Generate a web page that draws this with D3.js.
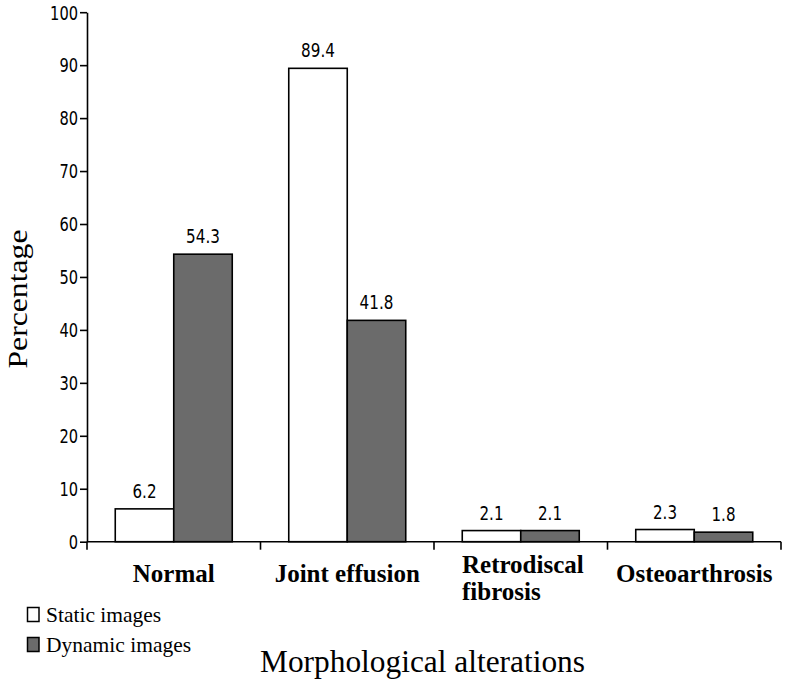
<!DOCTYPE html>
<html><head><meta charset="utf-8">
<script src="https://cdn.jsdelivr.net/npm/d3@7"></script>
<style>body{margin:0;background:#fff}svg{display:block}
.serif{font-family:"Liberation Serif","Times New Roman",Times,serif}
.num{font-family:"DejaVu Sans Condensed","DejaVu Sans",sans-serif}
</style>
</head><body>
<script>
const categories = ["Normal", "Joint effusion", "Retrodiscal fibrosis", "Osteoarthrosis"];
const categoryLines = [["Normal"], ["Joint effusion"], ["Retrodiscal", "fibrosis"], ["Osteoarthrosis"]];
const seriesNames = ["Static images", "Dynamic images"];
const staticValues = [6.2, 89.4, 2.1, 2.3];
const dynamicValues = [54.3, 41.8, 2.1, 1.8];
const yTicks = [0, 10, 20, 30, 40, 50, 60, 70, 80, 90, 100];
const colors = ["#ffffff", "#6b6b6b"];

const W = 785, H = 681;
const svg = d3.select("body").append("svg").attr("width", W).attr("height", H);
const x0 = 87, x1 = 781, yTop = 12.2, yBot = 541.7;
const x = d3.scaleBand().domain(categories).range([x0, x1]).paddingInner(0).paddingOuter(0);
const xs = d3.scaleBand().domain(seriesNames).range([0, x.bandwidth()]).paddingOuter(0.483).paddingInner(0);
const y = d3.scaleLinear().domain([0, 100]).range([yBot, yTop]);
const series = [staticValues, dynamicValues];
// narrow numeral width, as in the reference font
const numWidth = (s, dw) => s.replace(/[^0-9]/g, "").length * dw + s.replace(/[0-9]/g, "").length * dw * 0.45;

// y axis
const ya = svg.append("g").attr("transform", `translate(${x0},0)`)
  .call(d3.axisLeft(y).tickValues(yTicks).tickSize(7).tickSizeOuter(0));
ya.attr("font-family", null).attr("font-size", null);
ya.select(".domain").attr("stroke", "#000").attr("stroke-width", 1.6);
ya.selectAll(".tick line").attr("stroke-width", 1.6);
ya.selectAll(".tick text").attr("class", "num").style("font-size", "20px").attr("fill", "#000")
  .attr("x", -9).attr("dy", "0.34em")
  .attr("textLength", function () { return numWidth(this.textContent, 9.3); })
  .attr("lengthAdjust", "spacingAndGlyphs");

// bars
categories.forEach((c, i) => {
  series.forEach((vals, s) => {
    const bx = x(c) + xs(seriesNames[s]);
    svg.append("rect").attr("x", bx).attr("y", y(vals[i])).attr("width", xs.bandwidth())
      .attr("height", y(0) - y(vals[i])).attr("fill", colors[s]).attr("stroke", "#000").attr("stroke-width", 1.6);
    const lbl = vals[i].toFixed(1);
    svg.append("text").attr("class", "num").attr("x", bx + xs.bandwidth() / 2).attr("y", y(vals[i]) - 11)
      .attr("text-anchor", "middle").style("font-size", "20px")
      .attr("textLength", numWidth(lbl, 9.8)).attr("lengthAdjust", "spacingAndGlyphs")
      .text(lbl);
  });
});

// x axis
const xa = svg.append("g").attr("transform", `translate(0,${yBot})`);
xa.append("line").attr("x1", x0).attr("x2", x1).attr("stroke", "#000").attr("stroke-width", 1.6);
const xTickPos = categories.map(c => x(c)).concat([x1]);
xa.selectAll(".xt").data(xTickPos).join("line").attr("x1", d => d).attr("x2", d => d)
  .attr("y1", 0).attr("y2", 8).attr("stroke", "#000").attr("stroke-width", 1.6);

// category labels
categories.forEach((c, i) => {
  const lines = categoryLines[i];
  const t = svg.append("text").attr("class", "serif")
    .style("font-weight", "bold").style("font-size", "25px");
  if (lines.length === 1) {
    t.attr("x", x(c) + x.bandwidth() / 2).attr("y", 582).attr("text-anchor", "middle").text(lines[0]);
  } else {
    lines.forEach((l, k) => t.append("tspan").attr("x", x(c) + 28).attr("y", 573 + k * 27).text(l));
  }
});

// y label
svg.append("text").attr("class", "serif").attr("transform", "translate(27,299) rotate(-90)").attr("text-anchor", "middle")
  .style("font-size", "27px").attr("textLength", 139).attr("lengthAdjust", "spacingAndGlyphs").text("Percentage");

// x title
svg.append("text").attr("class", "serif").attr("x", 422.5).attr("y", 672).attr("text-anchor", "middle")
  .style("font-size", "32px").attr("textLength", 325).attr("lengthAdjust", "spacingAndGlyphs").text("Morphological alterations");

// legend
seriesNames.forEach((n, s) => {
  const ly = 607.5 + s * 30;
  svg.append("rect").attr("x", 27.5).attr("y", ly).attr("width", 11.5).attr("height", 14)
    .attr("fill", colors[s]).attr("stroke", "#000").attr("stroke-width", 1.5);
  svg.append("text").attr("class", "serif").attr("x", 46).attr("y", ly + 14.5)
    .style("font-size", "21.5px").text(n);
});
</script>
</body></html>
